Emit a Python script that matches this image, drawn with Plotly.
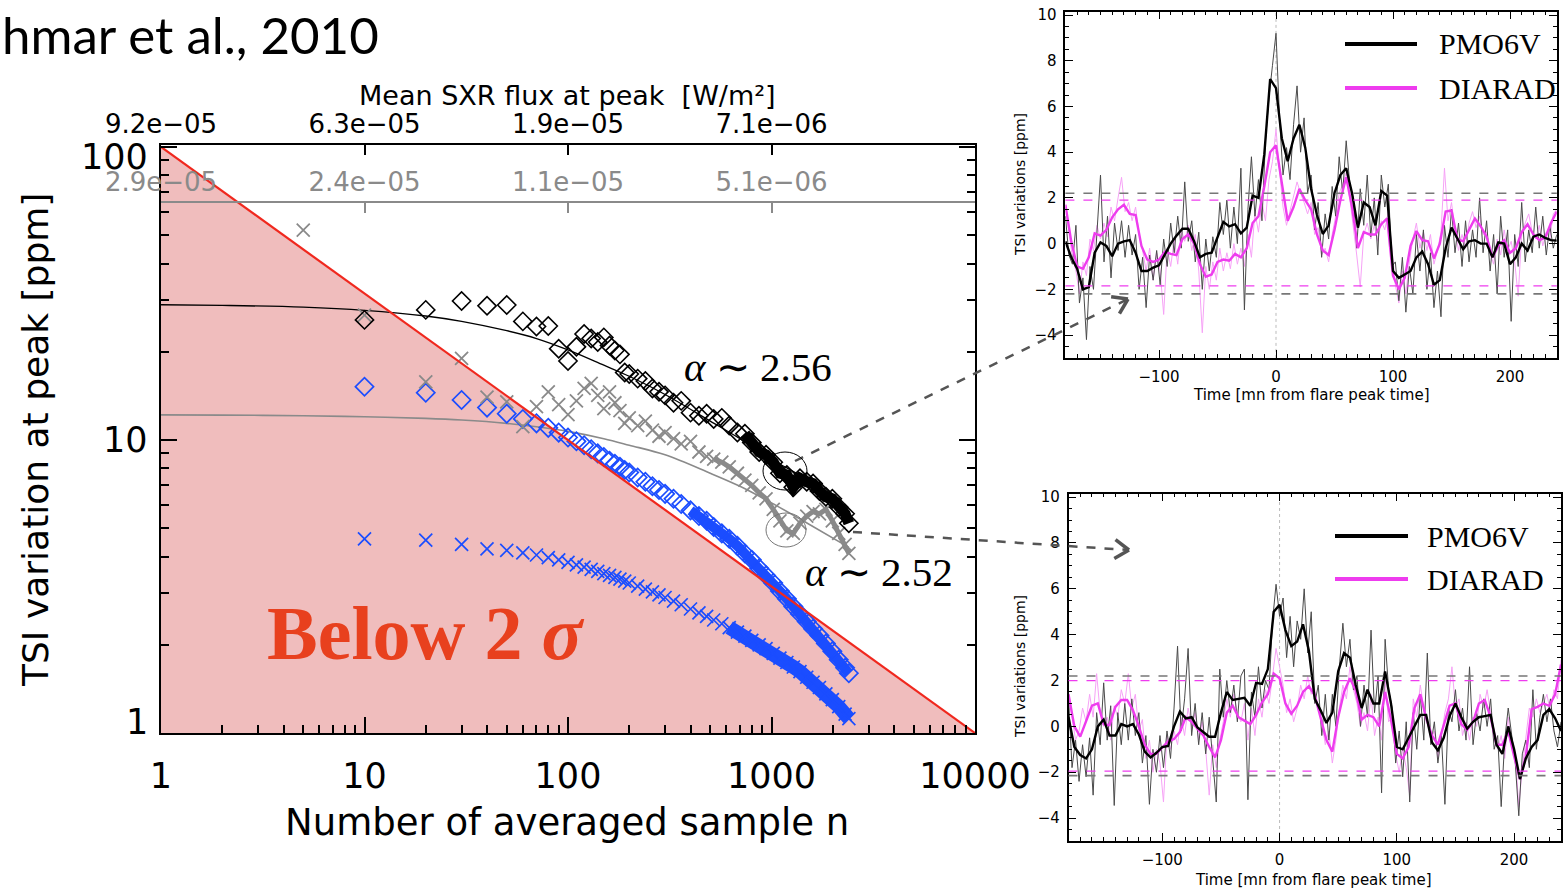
import math
import plotly.graph_objects as go

W, H = 1563, 890


def fx(p):
    return p / W


def fy(p):
    return 1 - p / H


# ---------------- left panel: TSI variation at peak vs n ----------------
N_SAMPLES = [10, 20, 30, 40, 50, 60, 70, 80, 90, 100, 110, 120, 130, 140, 150, 160, 170, 180, 190, 200,
             220, 240, 260, 280, 300, 330, 360, 400, 440, 480, 520, 570, 620, 680, 740, 800, 870, 940, 1020, 1100,
             1190, 1280, 1380, 1490, 1600, 1720, 1850, 1990, 2140, 2300, 2400]

PEAK_BLACK = [25.7, 27.8, 29.8, 28.7, 28.9, 25.4, 24.4, 24.5, 20.5, 18.6, 20.8, 23.0, 22.2, 21.6, 22.4, 21.0, 20.2, 19.6, 17.0, 16.8,
              16.2, 15.9, 15.0, 14.6, 14.2, 13.4, 13.6, 12.4, 12.1, 12.3, 11.8, 11.9, 11.2, 10.6, 10.5, 9.8, 9.1, 8.9, 8.4, 7.7,
              7.6, 6.9, 7.4, 7.2, 7.1, 6.7, 6.4, 6.3, 5.9, 5.6, 5.2]

N_SAMPLES_GRAY = [5] + N_SAMPLES
PEAK_GRAY = [52.0,
             26.7, 15.8, 19.0, 14.0, 13.5, 11.1, 13.0, 14.6, 13.2, 12.2, 13.6, 15.0, 15.6, 14.2, 12.8, 14.6, 13.4, 12.6, 11.4, 11.9,
             11.2, 11.6, 10.8, 10.3, 10.6, 10.1, 9.7, 9.9, 9.1, 8.8, 8.6, 8.4, 8.1, 7.7, 7.3, 7.0, 6.6, 6.3, 5.8, 5.3,
             4.9, 4.8, 5.2, 5.5, 5.7, 5.6, 5.8, 5.3, 4.8, 4.4, 4.1]

NOISE_DIAMOND = [15.2, 14.5, 13.7, 12.9, 12.3, 11.8, 11.4, 11.0, 10.6, 10.2, 9.9, 9.6, 9.3, 9.0, 8.75, 8.5, 8.3, 8.1, 7.9, 7.75,
                 7.45, 7.2, 6.95, 6.75, 6.55, 6.3, 6.05, 5.75, 5.5, 5.3, 5.05, 4.8, 4.6, 4.35, 4.1, 3.9, 3.65, 3.45, 3.25, 3.05,
                 2.87, 2.7, 2.55, 2.4, 2.27, 2.15, 2.02, 1.9, 1.78, 1.67, 1.6]

NOISE_CROSS = [4.6, 4.55, 4.4, 4.25, 4.2, 4.12, 4.05, 3.97, 3.9, 3.82, 3.75, 3.68, 3.62, 3.56, 3.5, 3.45, 3.4, 3.35, 3.3, 3.25,
               3.17, 3.1, 3.03, 2.96, 2.9, 2.82, 2.74, 2.65, 2.57, 2.5, 2.43, 2.36, 2.29, 2.21, 2.14, 2.07, 2.0, 1.94, 1.87, 1.8,
               1.74, 1.68, 1.62, 1.55, 1.49, 1.43, 1.36, 1.3, 1.23, 1.16, 1.12]

FIT_N = [1, 2, 5, 10, 20, 30, 50, 70, 100, 150, 200, 300, 500, 700, 1000, 1500, 2400]
FIT_BLACK = [28.95, 28.8, 28.4, 27.7, 26.5, 25.4, 23.6, 22.2, 20.3, 18.0, 16.5, 14.3, 11.6, 10.1, 8.6, 7.3, 5.7]
FIT_GRAY = [12.18, 12.16, 12.1, 12.0, 11.85, 11.7, 11.4, 11.1, 10.7, 10.1, 9.6, 8.9, 7.7, 6.95, 6.1, 5.2, 4.3]

SIGMA_N = [1, 10000]
SIGMA_V = [100, 1]

Y_TICKS = [1, 10, 100]
Y_TICK_SHIFT = [11, 0, -10]   # label offset in px (positive = up) relative to its tick
TOP_TICK_N = [1, 10, 100, 1000]
FLUX_LABELS = ["9.2e\u221205", "6.3e\u221205", "1.9e\u221205", "7.1e\u221206"]
FLUX_LABELS_GRAY = ["2.9e\u221205", "2.4e\u221205", "1.1e\u221205", "5.1e\u221206"]

# ---------------- right panels: superposed-epoch TSI time series ----------------
T_SMOOTH = list(range(-180, 241, 5))
T_RAW = list(range(-180, 241, 3))

A_PMO_SMOOTH = [0.1, -0.6, -1.1, -2.0, -1.9, -0.4, 0.05, -0.1, -0.55, 0.0,
                0.1, 0.15, -0.4, -1.2, -1.2, -1.05, -0.95, -0.45, 0.0, 0.35,
                0.65, 0.65, 0.1, -0.6, -0.45, -0.4, 0.3, 0.95, 0.75, 0.85,
                0.45, 0.7, 2.1, 2.0, 3.9, 7.2, 6.8, 4.6, 3.6, 4.6,
                5.2, 4.2, 2.4, 1.25, 0.42, 0.8, 2.2, 3.0, 3.3, 2.2,
                0.7, 1.8, 1.6, 0.8, 2.3, 2.1, -1.2, -1.5, -1.35, -1.2,
                -0.6, -0.35, -0.9, -1.8, -1.6, -0.2, 0.7, 0.25, -0.25, 0.1,
                0.15, 0.0, 0.0, -0.6, 0.05, 0.0, -0.9, -0.6, 0.0, -0.3,
                0.3, 0.4, 0.25, 0.15, 0.13]
A_DIA_SMOOTH = [1.7, 0.1, -1.0, -1.1, -0.6, 0.45, 0.35, 0.6, 1.15, 1.5,
                1.7, 1.3, 1.25, -0.1, -0.7, -0.8, -0.7, -0.35, -0.45, -0.5,
                0.2, 0.4, 0.0, -0.9, -1.45, -1.35, -0.8, -0.7, -0.75, -0.45,
                -0.6, -0.2, 0.9, 1.2, 2.5, 4.0, 4.3, 2.6, 1.0, 1.6,
                2.4, 1.9, 1.5, 0.4, -0.3, -0.5, 0.6, 1.9, 2.9, 1.6,
                -0.2, 0.5, 0.4, 0.4, 0.85, 1.1, -1.4, -2.0, -1.5, -0.1,
                0.55, 0.15, 0.1, -0.65, 0.0, 1.4, 1.45, 0.2, 0.1, 0.6,
                1.1, 0.75, 0.3, -0.6, -0.1, 0.15, -0.4, -0.2, 0.5, 0.85,
                0.4, 0.15, 0.25, 0.9, 1.4]
A_PMO_RAW = [1.2, -0.5, -0.9, 0.8, -2.6, -1.5, -4.2, -1.0, -2.0, 0.5,
             3.0, -0.8, 1.2, -1.5, 0.9, -0.3, 1.0, -0.6, 0.8, -0.5,
             0.4, -2.0, -0.6, -2.8, -0.5, -1.6, -0.3, -1.8, 0.2, -1.0,
             0.9, -0.4, 1.2, -0.2, 2.7, 0.1, 1.0, -0.8, 0.5, -2.0,
             0.2, -1.2, 0.3, -0.6, 1.8, 0.4, 1.9, -0.2, 1.6, 0.0,
             3.3, -2.9, 1.5, 3.8, 1.2, 2.8, 1.0, 4.5, 6.4, 7.8,
             9.2, 5.5, 3.0, 4.2, 2.8, 5.2, 6.9, 4.0, 5.5, 2.2,
             3.0, 0.6, 1.8, -0.6, 1.3, 0.2, 2.5, 1.2, 3.8, 2.2,
             4.5, 2.6, 2.0, -0.2, 2.4, 0.8, 3.0, 0.3, 2.0, -0.5,
             3.0, 1.6, 2.6, -1.0, -0.8, -2.5, -0.6, -3.0, -1.0, -2.2,
             0.4, -1.2, 0.6, -2.0, -0.4, -2.8, -1.2, -3.2, 0.8, -0.6,
             1.5, -0.4, 0.9, -1.0, 1.0, -0.8, 0.6, -0.6, 2.0, -0.4,
             1.0, -1.2, 0.4, -2.2, 1.2, -0.6, 0.6, -3.4, 0.4, -1.0,
             1.8, -0.8, 0.6, -0.4, 1.6, -0.2, 1.2, -0.5, 0.8, -0.2,
             0.4]
A_DIA_RAW = [1.6, 0.4, -0.6, -1.2, -2.2, -0.8, -1.4, 0.2, -0.3, 0.8,
             0.2, 0.9, 0.3, 1.6, 1.0, 2.0, 2.9, 1.4, 1.8, 1.0,
             1.6, 0.4, -0.3, -1.2, -0.2, -1.6, -0.4, -1.2, -3.1, -0.2,
             -1.0, 0.2, -0.9, 0.6, 0.1, 0.8, -0.3, 0.4, -1.2, -3.9,
             -1.0, -2.0, -0.8, -1.6, -0.2, -1.2, -0.4, -1.1, 0.0, -0.9,
             -0.2, -1.0, 0.4, -0.6, 1.4, 0.5, 1.8, 1.0, 2.8, 3.6,
             5.0, 3.2, 1.6, 0.8, 1.4, 2.0, 2.7, 2.2, 1.8, 1.3,
             1.8, 0.4, 0.7, -0.5, -0.2, -0.8, 0.4, 1.2, 2.2, 2.6,
             3.1, 2.0, 0.8, -0.5, -1.9, 0.4, 0.9, 0.2, 0.8, 0.1,
             1.0, 0.6, 1.4, -0.2, -1.8, -2.6, -1.2, -2.2, -0.8, 0.2,
             0.9, -0.2, 0.5, -0.3, 0.4, -0.9, -0.3, 0.5, 3.3, 1.0,
             1.8, 0.6, -0.3, 0.4, -0.2, 0.9, 1.4, 0.7, 1.2, 0.4,
             0.5, -0.4, -0.9, 0.2, -0.5, 0.6, -0.3, 0.1, -0.8, -2.3,
             0.4, 0.9, 1.3, 0.5, 0.2, 0.8, -0.1, 0.5, 0.2, 1.3,
             1.5]
A_PMO_SIGMA = [2.2, -2.2]
A_DIA_SIGMA = [1.9, -1.85]

B_PMO_SMOOTH = [0.4, -0.9, -1.25, -1.4, -1.0, 0.0, 0.3, -0.4, -0.4, 0.1,
                0.0, 0.1, -0.35, -1.1, -1.35, -1.15, -0.9, -0.85, 0.0, 0.65,
                0.35, 0.4, -0.05, -0.25, -0.45, -0.45, 0.6, 1.5, 1.15, 1.2,
                1.25, 0.9, 1.9, 1.85, 2.5, 5.0, 5.3, 4.2, 3.5, 3.7,
                4.45, 3.3, 1.2, 0.7, 0.15, 0.6, 2.4, 3.2, 3.0, 1.8,
                0.8, 1.6, 1.0, 1.0, 2.4, 1.0, -0.9, -1.0, -0.5, 0.0,
                0.5, 0.5, -0.7, -1.05, -0.5, 0.45, 1.0, 0.4, -0.1, 0.2,
                0.4, 0.45, 0.5, -0.8, -1.2, 0.0, -1.0, -2.3, -1.4, -0.9,
                -0.6, 0.5, 0.75, 0.35, -0.2]
B_DIA_SMOOTH = [1.4, 0.0, -0.45, 0.2, 0.9, 1.0, 0.1, 0.05, 0.85, 1.15,
                1.15, 0.7, 0.0, -0.8, -1.2, -1.2, -0.9, -0.65, -0.55, -0.25,
                0.4, 0.2, -0.1, -0.4, -0.9, -1.35, -0.6, 0.6, 0.9, 0.4,
                0.25, 0.1, 0.5, 1.05, 1.4, 2.3, 2.1, 1.0, 0.55, 0.9,
                1.5, 1.75, 1.35, 0.4, -0.6, -1.1, 0.4, 1.5, 2.1, 1.55,
                0.3, 0.5, 0.4, 0.0, 1.5, 0.3, -1.2, -1.4, -0.9, 0.8,
                1.4, 0.35, -0.4, -0.8, 0.1, 0.9, 1.0, 0.1, -0.15, 0.2,
                1.0, 1.15, 0.4, -0.8, -0.8, -0.2, -1.3, -2.3, -1.3, 0.75,
                0.85, 1.0, 0.9, 1.4, 2.7]
B_PMO_RAW = [1.3, -1.8, -0.6, -2.4, -0.8, -2.2, -0.5, -3.0, 0.6, -0.8,
             1.9, -0.6, 0.9, -3.45, 0.6, -0.8, 1.0, -0.6, 1.2, -0.4,
             0.6, -1.6, -0.4, -3.4, -1.0, -2.0, -0.4, -1.8, -0.2, -1.4,
             0.8, 3.5, -0.2, 1.2, 3.4, -0.4, 1.0, -0.8, 0.6, -1.2,
             0.4, -1.4, -3.3, 2.5, 0.4, 2.0, 0.6, 1.8, 0.2, 2.2,
             2.5, -3.2, 1.5, 0.4, 2.6, 0.8, 2.0, 1.6, 4.6, 6.2,
             4.8, 5.6, 3.0, 4.8, 2.6, 4.6, 3.8, 6.0, 3.2, 5.0,
             1.0, 1.8, -0.4, 1.4, -0.6, 1.4, 0.0, 2.6, 4.5, 2.6,
             3.8, 1.6, 2.2, 0.0, 1.8, 0.4, 4.2, 0.6, 2.2, -2.9,
             3.8, 1.6, 0.8, -1.6, -0.2, -2.2, 0.2, -3.3, 0.6, -1.0,
             1.4, -0.6, 3.2, -0.8, 0.2, -1.6, -0.4, -3.4, 0.8, 0.2,
             1.6, -0.2, 0.8, -0.6, 2.6, -0.8, 0.6, -0.2, 1.2, 0.0,
             1.2, -1.0, -0.4, -3.5, -0.6, 0.8, -0.4, -1.6, -3.9, -1.2,
             -0.6, -1.8, 1.6, -1.0, 0.4, 1.4, 0.2, 1.2, -0.2, -0.9,
             0.2]
B_DIA_RAW = [1.5, 0.4, -0.6, -0.2, 0.8, 0.2, 1.4, 0.4, 2.3, 0.6,
             0.0, 0.4, -0.6, 0.9, 0.4, 1.6, 1.0, 2.3, 0.8, 1.4,
             -0.2, 0.3, -1.4, -0.6, -2.0, -1.0, -1.6, -3.3, -0.4, -1.0,
             -0.2, -0.8, 0.4, -0.4, 0.8, 0.0, 0.6, -0.6, 0.2, -1.0,
             -3.0, -0.8, -1.8, -0.6, 0.2, 1.2, 0.4, 1.4, 0.6, 0.2,
             1.0, -0.6, 0.8, -0.4, 1.2, 0.4, 1.6, 1.0, 2.2, 3.4,
             2.6, 1.8, 0.6, 1.2, 0.2, 0.8, 1.8, 1.2, 2.2, 1.4,
             1.6, 0.8, 0.2, -0.8, -0.2, -1.6, -0.6, 0.8, 1.8, 1.2,
             2.6, 1.6, 1.0, 0.0, 0.6, -0.2, 1.4, -0.4, 0.4, -0.6,
             2.0, 0.2, 0.4, -1.2, -2.0, -1.0, -1.8, -3.0, 1.2, 0.4,
             1.8, 0.8, 0.2, -0.6, -0.2, -1.4, -0.4, 0.6, 1.2, 2.6,
             0.8, 1.2, -0.4, 0.2, -0.6, 0.4, 0.0, 1.4, 0.8, 1.6,
             0.6, -0.2, -1.0, -0.4, -1.4, 0.4, -0.8, -1.2, -3.5, -1.8,
             -0.6, 0.8, 0.4, 1.2, 0.6, 1.0, 1.4, 0.6, 1.6, 1.2,
             2.9]
B_PMO_SIGMA = [2.2, -2.15]
B_DIA_SIGMA = [2.0, -1.95]

BLUE = "#1b4dff"
GRAY = "#8a8a8a"
RED = "#f0281e"
MAGENTA = "#ee3cee"
MAGENTA_LIGHT = "#f6a2f6"
SANS = "DejaVu Sans"
SERIF = "Liberation Serif"

fig = go.Figure()

# shaded region below the 2-sigma detection threshold
fig.add_trace(go.Scatter(x=SIGMA_N + [SIGMA_N[0]], y=SIGMA_V + [SIGMA_V[-1]], mode="lines",
                         fill="toself", fillcolor="#f0bdbd", line=dict(width=0),
                         hoverinfo="skip", showlegend=False))

# fitted curves
fig.add_trace(go.Scatter(x=FIT_N, y=FIT_GRAY, mode="lines", line=dict(color=GRAY, width=1.6, shape="spline"),
                         hoverinfo="skip", showlegend=False))
fig.add_trace(go.Scatter(x=FIT_N, y=FIT_BLACK, mode="lines", line=dict(color="black", width=1.3, shape="spline"),
                         hoverinfo="skip", showlegend=False))


def dense_band(n, v, start, color, width):
    i = next(k for k, val in enumerate(n) if val >= start)
    fig.add_trace(go.Scatter(x=n[i:], y=v[i:], mode="lines", line=dict(color=color, width=width),
                             hoverinfo="skip", showlegend=False))


def markers(n, v, symbol, color, size, lw):
    fig.add_trace(go.Scatter(x=n, y=v, mode="markers",
                             marker=dict(symbol=symbol, size=size, color=color,
                                         line=dict(color=color, width=lw)),
                             hoverinfo="skip", showlegend=False))


dense_band(N_SAMPLES, NOISE_CROSS, 600, BLUE, 14)
dense_band(N_SAMPLES, NOISE_DIAMOND, 400, BLUE, 10)
markers(N_SAMPLES, NOISE_CROSS, "x-thin-open", BLUE, 13, 1.7)
markers(N_SAMPLES, NOISE_DIAMOND, "diamond-open", BLUE, 14, 1.7)
dense_band(N_SAMPLES_GRAY, PEAK_GRAY, 500, GRAY, 5)
markers(N_SAMPLES_GRAY, PEAK_GRAY, "x-thin-open", GRAY, 13, 1.8)
dense_band(N_SAMPLES, PEAK_BLACK, 740, "black", 11)
markers(N_SAMPLES, PEAK_BLACK, "diamond-open", "black", 14, 1.6)

# 2-sigma threshold line
fig.add_trace(go.Scatter(x=SIGMA_N, y=SIGMA_V, mode="lines", line=dict(color=RED, width=2.2),
                         hoverinfo="skip", showlegend=False))

# carriers for the two upper flux axes
for ax in ("x2", "x3"):
    fig.add_trace(go.Scatter(x=FIT_N, y=FIT_GRAY, xaxis=ax, yaxis="y", mode="lines",
                             line=dict(width=1), opacity=0, hoverinfo="skip", showlegend=False))

# right panels
PANELS = [
    ("x4", "y4", A_PMO_RAW, A_DIA_RAW, A_PMO_SMOOTH, A_DIA_SMOOTH),
    ("x5", "y5", B_PMO_RAW, B_DIA_RAW, B_PMO_SMOOTH, B_DIA_SMOOTH),
]
for xa, ya, pr, dr, ps, ds in PANELS:
    fig.add_trace(go.Scatter(x=T_RAW, y=dr, xaxis=xa, yaxis=ya, mode="lines",
                             line=dict(color=MAGENTA_LIGHT, width=1), hoverinfo="skip", showlegend=False))
    fig.add_trace(go.Scatter(x=T_RAW, y=pr, xaxis=xa, yaxis=ya, mode="lines",
                             line=dict(color="#4a4a4a", width=1), hoverinfo="skip", showlegend=False))
    fig.add_trace(go.Scatter(x=T_SMOOTH, y=ds, xaxis=xa, yaxis=ya, mode="lines",
                             line=dict(color=MAGENTA, width=2.4), hoverinfo="skip", showlegend=False))
    fig.add_trace(go.Scatter(x=T_SMOOTH, y=ps, xaxis=xa, yaxis=ya, mode="lines",
                             line=dict(color="black", width=2.4), hoverinfo="skip", showlegend=False))

log_top = (733 - 145) / 293.0

fig.update_layout(
    template="none",
    width=W, height=H, autosize=False,
    margin=dict(l=0, r=0, t=0, b=0, pad=0),
    paper_bgcolor="white", plot_bgcolor="rgba(0,0,0,0)",
    showlegend=False,
    xaxis=dict(domain=[fx(161), fx(975)], anchor="y", type="log", range=[0, 4], dtick=1,
               tickformat="d", ticks="inside", ticklen=16, tickwidth=2, tickcolor="black",
               minor=dict(ticks="inside", ticklen=8, tickwidth=1.5, tickcolor="black", dtick="D1"),
               showline=True, linewidth=2, linecolor="black", showgrid=False, zeroline=False,
               automargin=False,
               tickfont=dict(family=SANS, size=35, color="black"), ticklabelstandoff=11),
    yaxis=dict(domain=[fy(733), fy(145)], anchor="x", type="log", range=[0, log_top], dtick=1,
               showticklabels=False, ticks="inside", ticklen=16, tickwidth=2, tickcolor="black",
               minor=dict(ticks="inside", ticklen=8, tickwidth=1.5, tickcolor="black", dtick="D1"),
               showline=True, linewidth=2, linecolor="black", mirror="ticks", showgrid=False, zeroline=False,
               automargin=False),
    xaxis2=dict(overlaying="x", anchor="y", side="top", type="log", range=[0, 4],
                tickmode="array", tickvals=TOP_TICK_N, ticktext=FLUX_LABELS,
                ticks="inside", ticklen=10, tickwidth=2, tickcolor="black",
                showline=True, linewidth=2, linecolor="black", showgrid=False, zeroline=False,
                automargin=False,
                tickfont=dict(family=SANS, size=26, color="black")),
    xaxis3=dict(overlaying="x", anchor="free", position=fy(202), side="top", type="log", range=[0, 4],
                tickmode="array", tickvals=TOP_TICK_N, ticktext=FLUX_LABELS_GRAY,
                ticks="inside", ticklen=10, tickwidth=2, tickcolor=GRAY,
                showline=True, linewidth=2, linecolor=GRAY, showgrid=False, zeroline=False,
                automargin=False,
                tickfont=dict(family=SANS, size=26, color=GRAY)),
)

# y tick labels of the left panel, placed on the log axis with small offsets
for v, shift in zip(Y_TICKS, Y_TICK_SHIFT):
    fig.add_annotation(x=fx(150), xref="paper", y=math.log10(v), yref="y", text=str(v), showarrow=False,
                       xanchor="right", yanchor="middle", yshift=shift,
                       font=dict(family=SANS, size=35, color="black"))

panel_geom = {
    "4": dict(x=[fx(1065.4), fx(1556.8)], y=[fy(357.9), fy(11.6)]),
    "5": dict(x=[fx(1068.5), fx(1561.0)], y=[fy(841.0), fy(493.7)]),
}
for k, g in panel_geom.items():
    fig.update_layout(**{
        f"xaxis{k}": dict(domain=g["x"], anchor=f"y{k}", range=[-180, 240], dtick=100, tick0=0,
                          ticks="inside", ticklen=8, tickwidth=1.2, tickcolor="black",
                          minor=dict(ticks="inside", ticklen=4, tickwidth=1, tickcolor="black", dtick=10),
                          mirror="ticks", showline=True, linewidth=1.5, linecolor="black",
                          showgrid=False, zeroline=False, automargin=False,
                          tickfont=dict(family=SANS, size=15, color="black"), ticklabelstandoff=4),
        f"yaxis{k}": dict(domain=g["y"], anchor=f"x{k}", range=[-5, 10.15], dtick=2, tick0=0,
                          ticks="inside", ticklen=8, tickwidth=1.2, tickcolor="black",
                          minor=dict(ticks="inside", ticklen=4, tickwidth=1, tickcolor="black", dtick=0.5),
                          mirror="ticks", showline=True, linewidth=1.5, linecolor="black",
                          showgrid=False, zeroline=False, automargin=False,
                          tickfont=dict(family=SANS, size=15, color="black"), ticklabelstandoff=4),
    })

shapes = []
# sigma levels and flare peak marker in the time-series panels
for k, pmo_sig, dia_sig in (("4", A_PMO_SIGMA, A_DIA_SIGMA), ("5", B_PMO_SIGMA, B_DIA_SIGMA)):
    for lvl in pmo_sig:
        shapes.append(dict(type="line", xref=f"x{k} domain", yref=f"y{k}", x0=0, x1=1, y0=lvl, y1=lvl,
                           line=dict(color="#777777", width=1.6, dash="dash")))
    for lvl in dia_sig:
        shapes.append(dict(type="line", xref=f"x{k} domain", yref=f"y{k}", x0=0, x1=1, y0=lvl, y1=lvl,
                           line=dict(color=MAGENTA, width=1.3, dash="dash")))
    shapes.append(dict(type="line", xref=f"x{k}", yref=f"y{k} domain", x0=0, x1=0, y0=0, y1=1,
                       line=dict(color="#bbbbbb", width=1, dash="dot"), layer="below"))


def pline(x0, y0, x1, y1, color, width, dash="solid"):
    shapes.append(dict(type="line", xref="paper", yref="paper", x0=fx(x0), y0=fy(y0), x1=fx(x1), y1=fy(y1),
                       line=dict(color=color, width=width, dash=dash)))


# in-panel legends
for (x0, x1, yk, yd) in ((1345, 1417, 44, 88), (1335, 1408, 536, 579)):
    pline(x0, yk, x1, yk, "black", 4)
    pline(x0, yd, x1, yd, MAGENTA, 4)


# dashed pointers from the left panel to the time series
def pointer(x0, y0, x1, y1):
    pline(x0, y0, x1, y1, "#555555", 2.5, "dash")
    ang = math.atan2(y1 - y0, x1 - x0)
    for da in (2.55, -2.55):
        a = ang + da
        pline(x1, y1, x1 + 17 * math.cos(a), y1 + 17 * math.sin(a), "#555555", 3.5)


pointer(795, 461, 1128, 299)
pointer(853, 532, 1129, 550)

# highlighted sample circles
for cx, cy, rx, ry, col in ((785, 471, 22, 19, "black"), (786, 530, 20, 17, "#777777")):
    shapes.append(dict(type="circle", xref="paper", yref="paper",
                       x0=fx(cx - rx), x1=fx(cx + rx), y0=fy(cy + ry), y1=fy(cy - ry),
                       line=dict(color=col, width=1)))

fig.update_layout(shapes=shapes)


def text(x, y, s, size, family=SANS, color="black", xanchor="center", angle=0, yanchor="middle"):
    fig.add_annotation(x=fx(x), y=fy(y), xref="paper", yref="paper", text=s, showarrow=False,
                       xanchor=xanchor, yanchor=yanchor, textangle=angle,
                       font=dict(family=family, size=size, color=color))


text(567, 96, "Mean SXR flux at peak  [W/m\u00b2]", 27)
text(567, 822, "Number of averaged sample n", 37)
text(35, 440, "TSI variation at peak [ppm]", 36, angle=-90)
text(425, 633, "<b>Below 2 <i>\u03c3</i></b>", 76, family=SERIF, color="#e8401e")
text(758, 367, "<i>\u03b1</i> \u223c 2.56", 41, family=SERIF)
text(879, 572, "<i>\u03b1</i> \u223c 2.52", 41, family=SERIF)
text(0, 35, "hmar et al., 2010", 51, family="Lato", xanchor="left")

text(1311, 395, "Time [mn from flare peak time]", 15)
text(1313, 880, "Time [mn from flare peak time]", 15)
text(1020, 185, "TSI variations [ppm]", 14, angle=-90)
text(1020, 667, "TSI variations [ppm]", 14, angle=-90)

text(1437, 44, "PMO6V", 30, family=SERIF, xanchor="left")
text(1437, 88, "DIARAD", 30, family=SERIF, xanchor="left")
text(1425, 536, "PMO6V", 30, family=SERIF, xanchor="left")
text(1425, 579, "DIARAD", 30, family=SERIF, xanchor="left")

fig.write_html("out.html")
